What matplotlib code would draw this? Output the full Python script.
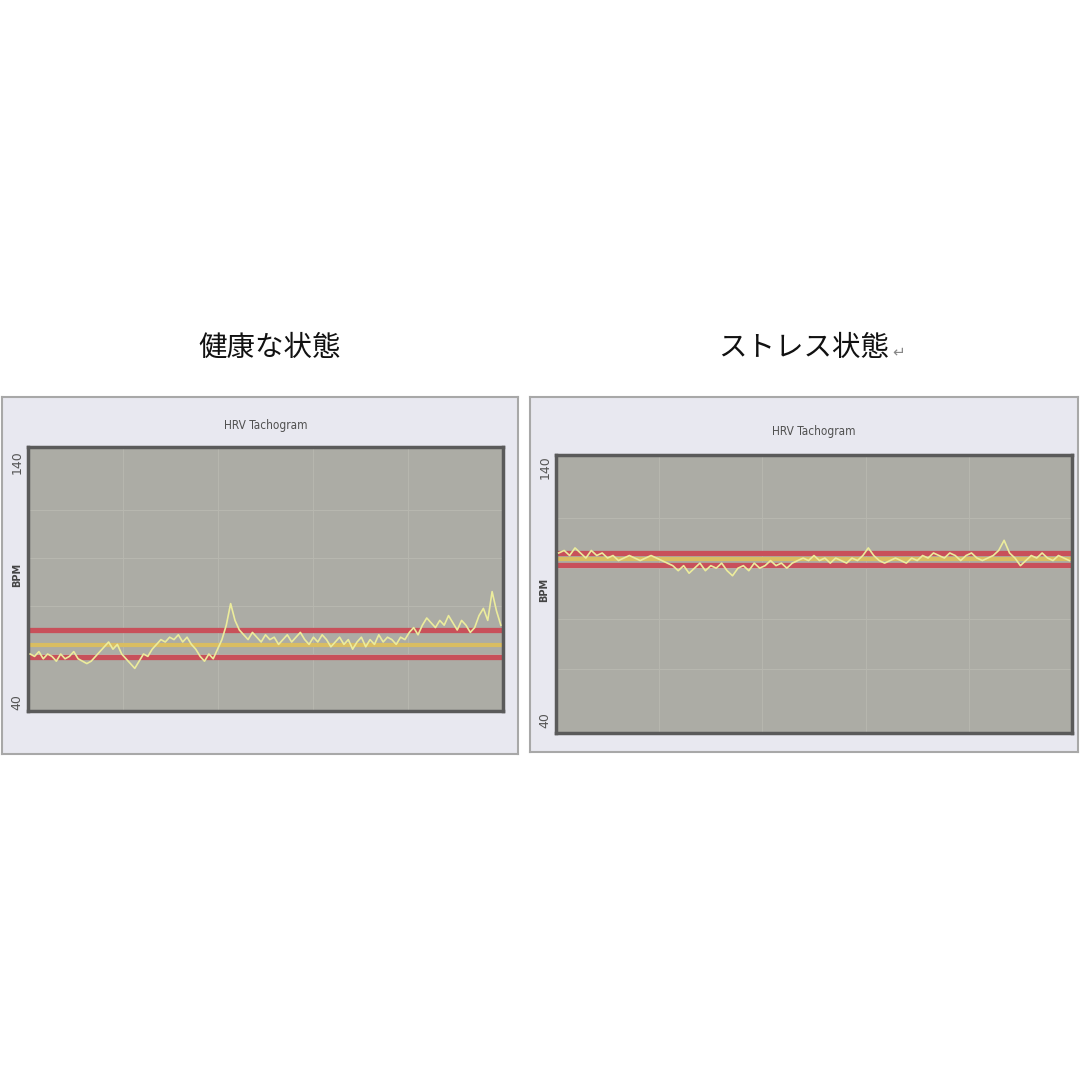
import numpy as np
import matplotlib
matplotlib.use("Agg")
import matplotlib.pyplot as plt

plt.rcParams['font.family'] = ['Noto Sans CJK JP', 'DejaVu Sans']

# ---- data (BPM) ----
titles = ["健康な状態", "ストレス状態"]
chart_title = "HRV Tachogram"
y_ticks = [40, 140]

healthy_bpm = [60, 59, 61, 58, 60, 59, 57, 60, 58, 59, 61, 58, 57, 56, 57,
               59, 61, 63, 65, 62, 64, 60,
               58, 56, 54, 57, 60, 59,
               62, 64, 66, 65, 67, 66, 68, 65, 67, 64,
               62, 59, 57, 60, 58, 62,
               66, 72, 81, 74, 70,
               68, 66, 69, 67, 65, 68, 66, 67, 64, 66, 68, 65, 67, 69, 66, 64,
               67, 65, 68, 66, 63, 65, 67, 64, 66, 62, 65, 67, 63, 66, 64, 68,
               65, 67, 66, 64, 67,
               66, 69, 71, 68, 72, 75, 73, 71, 74, 72,
               76, 73, 70, 74, 72, 69, 71, 76, 79, 74, 86, 78, 72]
healthy_upper = 69.8
healthy_mean = 63.8
healthy_lower = 58.8

stress_bpm = [106, 107, 105, 108, 106, 104, 107, 105, 106, 104, 105, 103, 104, 105,
              104, 103, 104, 105, 104, 103,
              102, 101, 99, 101, 98, 100, 102, 99, 101, 100, 102, 99, 97, 100, 101,
              99, 102, 100, 101, 103, 101, 102, 100, 102, 103,
              104, 103, 105, 103, 104, 102, 104, 103, 102, 104, 103, 105, 108, 105, 103,
              102, 103, 104, 103, 102, 104, 103, 105, 104, 106, 105, 104, 106, 105,
              103, 105, 106, 104, 103, 104,
              105, 107, 111, 106, 104, 101, 103, 105, 104, 106, 104, 103, 105, 104, 103]
stress_upper = 105.9
stress_mean = 103.6
stress_lower = 101.2

# ---- colours ----
panel_bg = '#e8e8f0'
plot_bg = '#acaca5'
frame_col = '#5a5a5a'
red = '#c8505a'
yellow = '#d9bd62'
trace = '#ecec9c'
grid_col = '#b8b8b0'

W = H = 1080
fig = plt.figure(figsize=(10.8, 10.8), dpi=100)
fig.patch.set_facecolor('white')


def rect(x0, y0, x1, y1):
    # pixel box (top-left origin) -> figure fraction
    return [x0 / W, 1 - y1 / H, (x1 - x0) / W, (y1 - y0) / H]


panels = [
    dict(outer=(2, 397, 518, 754), inner=(28, 447, 503, 711), ylim=(36.25, 146.25),
         data=healthy_bpm, up=healthy_upper, mean=healthy_mean, low=healthy_lower,
         title_xy=(270, 348), chart_title_y=425, bpm_xy=(17, 575)),
    dict(outer=(530, 397, 1078, 752), inner=(556, 455, 1072, 733), ylim=(34.9, 144.7),
         data=stress_bpm, up=stress_upper, mean=stress_mean, low=stress_lower,
         title_xy=(804, 348), chart_title_y=432, bpm_xy=(544, 590)),
]

for i, p in enumerate(panels):
    # outer light panel
    bg = fig.add_axes(rect(*p['outer']))
    bg.set_facecolor(panel_bg)
    bg.set_xticks([])
    bg.set_yticks([])
    for s in bg.spines.values():
        s.set_color('#a8a8a8')
        s.set_linewidth(1.5)

    ax = fig.add_axes(rect(*p['inner']))
    ax.set_facecolor(plot_bg)
    n = len(p['data'])
    x = np.arange(n)
    ax.set_xlim(-0.5, n - 0.5)
    ax.set_ylim(*p['ylim'])
    for s in ax.spines.values():
        s.set_color(frame_col)
        s.set_linewidth(2.5)

    for g in [60, 80, 100, 120]:
        ax.axhline(g, color=grid_col, lw=0.7, zorder=1)
    for f in [0.2, 0.4, 0.6, 0.8]:
        ax.axvline(-0.5 + f * n, color=grid_col, lw=0.6, zorder=1)

    ax.axhline(p['up'], color=red, lw=3.8, zorder=2)
    ax.axhline(p['low'], color=red, lw=3.8, zorder=2)
    ax.axhline(p['mean'], color=yellow, lw=3.0, zorder=2)
    ax.plot(x, p['data'], color=trace, lw=1.2, zorder=3)

    ax.set_xticks([])
    ax.set_yticks(y_ticks)
    ax.set_yticklabels([str(t) for t in y_ticks], rotation=90, va='center',
                       fontsize=9, color='#555555', family='DejaVu Sans')
    ax.tick_params(axis='y', length=0, pad=3)

    bx, by = p['bpm_xy']
    fig.text(bx / W, 1 - by / H, 'BPM', rotation=90, ha='center', va='center',
             fontsize=7, color='#444444', fontweight='bold', family='DejaVu Sans')

    cx = (p['inner'][0] + p['inner'][2]) / 2
    fig.text(cx / W, 1 - p['chart_title_y'] / H, chart_title, ha='center', va='center',
             fontsize=8.5, color='#505050', family='DejaVu Sans',
             fontstretch='condensed')

    tx, ty = p['title_xy']
    fig.text(tx / W, 1 - ty / H, titles[i], ha='center', va='center',
             fontsize=20.5, color='#111111')

# return mark after the second title
fig.text(899 / W, 1 - 352 / H, '↵', ha='center', va='center', fontsize=11,
         color='#888888', family=['DejaVu Sans'])

fig.savefig('out.png', dpi=100, facecolor='white')
